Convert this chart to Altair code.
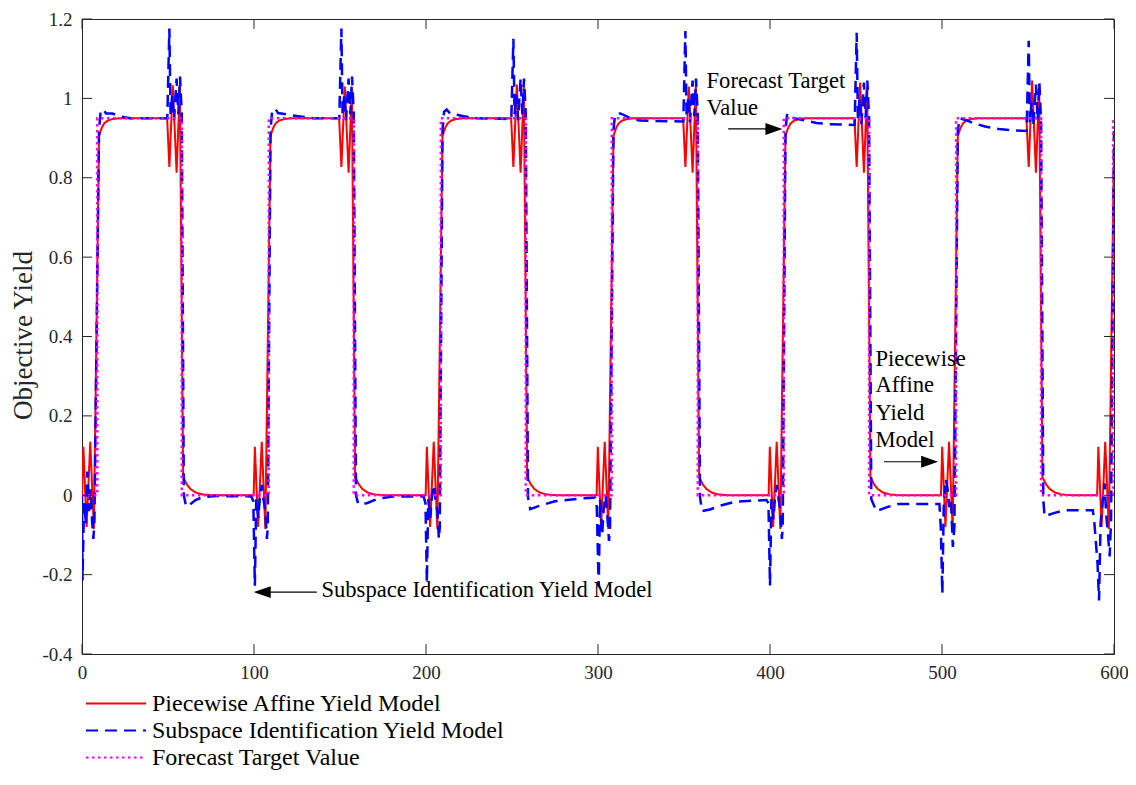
import altair as alt
import pandas as pd

W, H = 1032, 635

series_names = ["Piecewise Affine Yield Model",
                "Subspace Identification Yield Model",
                "Forecast Target Value"]
series_colors = ["#ff0000", "#0000ff", "#ff00ff"]
series_dash = [[1, 0], [12, 7], [2.5, 3.5]]

x_ticks = [0, 100, 200, 300, 400, 500, 600]
y_ticks = [-0.4, -0.2, 0, 0.2, 0.4, 0.6, 0.8, 1.0, 1.2]

# Piecewise affine yield model (red, solid)
pa_points = [
    (0.0, 0.0), (0.8, 0.122), (2.7, -0.08), (4.8, 0.135), (6.9, -0.085), (9.9, 0.905), (10.6, 0.915),
    (11.6, 0.927), (12.9, 0.937), (14.9, 0.944), (17.9, 0.948), (21.9, 0.95), (49.5, 0.95), (50.8, 0.827),
    (52.8, 1.033), (55.0, 0.813), (56.9, 1.03), (58.8, 0.045), (59.5, 0.04), (61.0, 0.027), (63.0, 0.016),
    (66.0, 0.007), (70.0, 0.002), (76.0, 0.0),
    (99.8, 0.0), (100.5, 0.122), (102.4, -0.08), (104.5, 0.135), (106.6, -0.085), (109.6, 0.905), (110.3, 0.915),
    (111.3, 0.927), (112.6, 0.937), (114.6, 0.944), (117.6, 0.948), (121.6, 0.95), (149.5, 0.95), (150.8, 0.827),
    (152.8, 1.03), (155.0, 0.813), (156.9, 1.025), (158.8, 0.045), (159.5, 0.04), (161.0, 0.027), (163.0, 0.016),
    (166.0, 0.007), (170.0, 0.002), (176.0, 0.0),
    (199.8, 0.0), (200.5, 0.122), (202.4, -0.08), (204.5, 0.135), (206.6, -0.085), (209.6, 0.905), (210.3, 0.915),
    (211.3, 0.927), (212.6, 0.937), (214.6, 0.944), (217.6, 0.948), (221.6, 0.95), (249.5, 0.95), (250.8, 0.827),
    (252.8, 1.035), (255.0, 0.813), (256.9, 1.03), (258.8, 0.045), (259.5, 0.04), (261.0, 0.027), (263.0, 0.016),
    (266.0, 0.007), (270.0, 0.002), (276.0, 0.0),
    (299.2, 0.0), (299.9, 0.122), (301.8, -0.08), (303.9, 0.135), (306.0, -0.085), (309.0, 0.905), (309.7, 0.915),
    (310.7, 0.927), (312.0, 0.937), (314.0, 0.944), (317.0, 0.948), (321.0, 0.95), (349.5, 0.95), (350.8, 0.827),
    (352.8, 1.03), (355.0, 0.813), (356.9, 1.035), (358.8, 0.045), (359.5, 0.04), (361.0, 0.027), (363.0, 0.016),
    (366.0, 0.007), (370.0, 0.002), (376.0, 0.0),
    (399.2, 0.0), (399.9, 0.122), (401.8, -0.08), (403.9, 0.135), (406.0, -0.085), (409.0, 0.905), (409.7, 0.915),
    (410.7, 0.927), (412.0, 0.937), (414.0, 0.944), (417.0, 0.948), (421.0, 0.95), (449.1, 0.95), (450.4, 0.827),
    (452.4, 1.04), (454.6, 0.813), (456.5, 1.03), (458.4, 0.045), (459.1, 0.04), (460.6, 0.027), (462.6, 0.016),
    (465.6, 0.007), (469.6, 0.002), (475.6, 0.0),
    (499.4, 0.0), (500.1, 0.122), (502.0, -0.08), (504.1, 0.135), (506.2, -0.085), (509.2, 0.905), (509.9, 0.915),
    (510.9, 0.927), (512.2, 0.937), (514.2, 0.944), (517.2, 0.948), (521.2, 0.95), (549.1, 0.95), (550.4, 0.827),
    (552.4, 1.045), (554.6, 0.813), (556.5, 1.035), (558.4, 0.045), (559.1, 0.04), (560.6, 0.027), (562.6, 0.016),
    (565.6, 0.007), (569.6, 0.002), (575.6, 0.0),
    (590.2, 0.0), (590.9, 0.122), (592.8, -0.08), (594.9, 0.135), (597.0, -0.085), (600.0, 0.878),
]

# Subspace identification yield model (blue, dashed)
si_points = [
    (0.0, 0.0), (0.3, -0.215), (1.2, -0.02), (2.3, -0.07), (3.1, 0.06), (4.1, -0.04), (5.0, 0.015), (5.8, -0.06),
    (6.6, -0.11), (7.2, -0.07), (9.9, 0.92), (10.8, 0.966), (12.1, 0.973), (14.0, 0.962), (17.6, 0.962),
    (22.0, 0.955), (28.0, 0.95), (49.6, 0.95), (50.8, 1.176), (51.5, 0.96), (52.5, 1.01), (53.5, 0.945),
    (55.0, 1.05), (56.0, 0.96), (57.0, 1.055), (58.0, 0.96), (59.2, 0.0), (60.5, -0.028), (62.5, -0.024),
    (66.0, -0.012), (70.0, -0.005), (78.0, -0.002), (98.5, -0.003),
    (99.6, -0.015), (100.5, -0.228), (101.3, -0.01), (102.5, -0.057), (103.5, 0.0), (104.6, 0.026), (105.5, -0.01),
    (106.6, -0.04), (107.5, -0.11), (108.0, -0.08), (109.6, 0.92), (110.5, 0.966), (112.2, 0.975), (114.0, 0.963),
    (121.0, 0.958), (128.0, 0.954), (135.0, 0.95), (149.6, 0.95), (150.8, 1.176), (151.5, 0.96), (152.5, 1.01),
    (153.5, 0.945), (155.0, 1.05), (156.0, 0.96), (157.0, 1.055), (158.0, 0.96), (159.3, 0.0), (160.6, -0.022),
    (165.6, -0.02), (172.4, -0.008), (181.0, -0.003), (198.6, -0.003),
    (199.7, -0.02), (200.5, -0.22), (201.3, -0.01), (202.5, -0.057), (203.5, 0.0), (204.6, 0.026), (205.5, -0.01),
    (206.6, -0.04), (207.5, -0.11), (208.0, -0.08), (209.6, 0.92), (210.5, 0.966), (212.0, 0.972), (214.0, 0.962),
    (222.0, 0.955), (230.0, 0.95), (249.6, 0.948), (250.8, 1.15), (251.5, 0.96), (252.5, 1.01), (253.5, 0.945),
    (255.0, 1.05), (256.0, 0.96), (257.0, 1.05), (258.0, 0.96), (259.3, -0.005), (260.6, -0.035), (265.0, -0.028),
    (275.0, -0.015), (290.0, -0.008), (298.2, -0.006),
    (299.3, -0.03), (300.4, -0.232), (301.2, -0.01), (302.4, -0.1), (303.4, -0.03), (304.4, 0.0), (305.4, -0.05),
    (306.4, -0.115), (307.0, -0.08), (309.0, 0.92), (309.8, 0.955), (311.0, 0.962), (313.0, 0.962), (319.0, 0.95),
    (324.0, 0.944), (333.0, 0.943), (349.6, 0.942), (350.8, 1.17), (351.5, 0.955), (352.5, 1.005), (353.5, 0.94),
    (355.0, 1.045), (356.0, 0.955), (357.0, 1.05), (358.0, 0.955), (359.3, -0.005), (360.5, -0.04), (365.0, -0.036),
    (372.0, -0.025), (380.0, -0.016), (398.0, -0.012),
    (399.1, -0.02), (400.0, -0.228), (400.8, -0.01), (402.0, -0.06), (403.0, 0.0), (404.0, 0.026), (405.0, -0.01),
    (406.0, -0.04), (406.9, -0.11), (407.4, -0.08), (409.0, 0.92), (410.0, 0.962), (414.0, 0.95), (421.0, 0.944),
    (427.0, 0.938), (434.0, 0.935), (449.2, 0.933), (450.4, 1.165), (451.1, 0.95), (452.1, 1.0), (453.1, 0.935),
    (454.6, 1.04), (455.6, 0.95), (456.6, 1.045), (457.6, 0.95), (458.9, -0.01), (461.9, -0.04), (468.0, -0.03),
    (474.4, -0.022), (498.5, -0.022),
    (499.3, -0.08), (500.2, -0.248), (501.0, -0.03), (502.2, 0.04), (503.2, 0.018), (504.2, -0.03), (505.2, -0.01),
    (506.3, -0.13), (507.2, -0.08), (509.2, 0.92), (510.3, 0.95), (514.0, 0.945), (518.0, 0.938), (525.0, 0.929),
    (533.0, 0.923), (540.0, 0.92), (549.2, 0.918), (550.4, 1.145), (551.1, 0.94), (552.1, 0.99), (553.1, 0.93),
    (554.6, 1.035), (555.6, 0.945), (556.6, 1.04), (557.6, 0.94), (558.9, -0.01), (559.6, -0.053), (565.0, -0.045),
    (571.0, -0.038), (587.7, -0.038),
    (588.6, -0.07), (590.4, -0.17), (591.3, -0.265), (592.2, -0.07), (593.3, -0.02), (594.5, 0.03), (595.5, -0.05),
    (596.5, -0.1), (597.5, -0.154), (598.3, -0.06), (600.0, 0.918),
]

# Forecast target value (magenta, dotted)
ft_points = [
    (0.0, 0.0), (8.9, 0.0), (8.9, 0.95), (58.0, 0.95), (58.0, 0.0), (108.6, 0.0), (108.6, 0.95), (158.0, 0.95),
    (158.0, 0.0), (208.6, 0.0), (208.6, 0.95), (258.0, 0.95), (258.0, 0.0), (308.0, 0.0), (308.0, 0.95),
    (358.0, 0.95), (358.0, 0.0), (408.0, 0.0), (408.0, 0.95), (457.6, 0.95), (457.6, 0.0), (508.2, 0.0),
    (508.2, 0.95), (557.6, 0.95), (557.6, 0.0), (599.5, 0.0), (599.5, 0.95), (600.0, 0.95),
]

# annotations
note_text = ["Forecast Target", "Value", "Piecewise", "Affine", "Yield", "Model",
             "Subspace Identification Yield Model"]
note_x = [363.1, 363.1, 461.3, 461.3, 461.3, 461.3, 139.2]
note_y = [1.025, 0.958, 0.326, 0.259, 0.19, 0.122, -0.256]

arrow_x0 = [375.7, 466.3, 104.0]
arrow_x1 = [402.5, 493.0, 136.5]
arrow_y = [0.923, 0.0844, -0.244]
arrow_head_x = [402.3, 492.8, 104.8]
arrow_head_dir = ["right", "right", "left"]

FONT = "Liberation Serif"
AX = "#262626"

frames = []
for name, pts in zip(series_names, [pa_points, si_points, ft_points]):
    df = pd.DataFrame(pts, columns=["x", "y"])
    df["series"] = name
    df["idx"] = range(len(df))
    frames.append(df)

color = alt.Color("series:N", scale=alt.Scale(domain=series_names, range=series_colors),
                  legend=alt.Legend(title=None, orient="none", legendX=3, legendY=671,
                                    direction="vertical", symbolType="stroke", symbolSize=3600,
                                    symbolStrokeWidth=2, clipHeight=27, rowPadding=0,
                                    labelFont=FONT, labelFontSize=24, labelColor="black",
                                    labelOffset=5, padding=0, labelLimit=0))
dash = alt.StrokeDash("series:N", scale=alt.Scale(domain=series_names, range=series_dash), legend=None)

xenc = alt.X("x:Q", scale=alt.Scale(domain=[0, 600], nice=False, zero=False),
             axis=alt.Axis(values=x_ticks, title=None, ticks=False, grid=False, labelPadding=9,
                           labelFontSize=19, labelFont=FONT, labelColor=AX, domainColor=AX,
                           labelFlush=False, labelOverlap=False))
yenc = alt.Y("y:Q", scale=alt.Scale(domain=[-0.4, 1.2], nice=False, zero=False),
             axis=alt.Axis(values=y_ticks, title="Objective Yield", ticks=False, grid=False,
                           labelPadding=10, labelFontSize=19, labelFont=FONT, labelColor=AX,
                           domainColor=AX, labelFlush=False, labelOverlap=False,
                           labelExpr="datum.value < 0 ? '-' + format(-datum.value, '.1~f') : format(datum.value, '.1~f')",
                           titleFont=FONT, titleFontSize=27, titleFontWeight="normal", titleColor=AX,
                           titleX=-51, titleY=316, titleBaseline="alphabetic", titleAngle=-90))

widths = [2, 2.5, 2.5]
lines = []
for df, w in zip(frames, widths):
    lines.append(alt.Chart(df).mark_line(strokeWidth=w, clip=True).encode(
        x=xenc, y=yenc, color=color, strokeDash=dash, order=alt.Order("idx:Q")))

xt = pd.DataFrame({"x": x_ticks})
yt = pd.DataFrame({"y": y_ticks})
tick_layers = [
    alt.Chart(xt).mark_rule(color=AX, strokeWidth=1).encode(x=xenc, y=alt.value(0), y2=alt.value(10)),
    alt.Chart(xt).mark_rule(color=AX, strokeWidth=1).encode(x=xenc, y=alt.value(H), y2=alt.value(H - 10)),
    alt.Chart(yt).mark_rule(color=AX, strokeWidth=1).encode(y=yenc, x=alt.value(0), x2=alt.value(10)),
    alt.Chart(yt).mark_rule(color=AX, strokeWidth=1).encode(y=yenc, x=alt.value(W), x2=alt.value(W - 10)),
]

notes = alt.Chart(pd.DataFrame({"t": note_text, "x": note_x, "y": note_y})).mark_text(
    font=FONT, fontSize=22.6, align="left", baseline="alphabetic", color="black").encode(
    x=xenc, y=yenc, text="t:N")

arr = pd.DataFrame({"x": arrow_x0, "x1": arrow_x1, "y": arrow_y})
heads = pd.DataFrame({"x": arrow_head_x, "y": arrow_y, "dir": arrow_head_dir})
arrow_lines = alt.Chart(arr).mark_rule(color="black", strokeWidth=1.2).encode(
    x=xenc, x2="x1:Q", y=yenc)
heads_r = alt.Chart(heads).transform_filter("datum.dir == 'right'").mark_point(
    shape="M-1,-0.7L1,0L-1,0.7Z", filled=True, color="black", size=289, opacity=1).encode(
    x=xenc, y=yenc)
heads_l = alt.Chart(heads).transform_filter("datum.dir == 'left'").mark_point(
    shape="M1,-0.7L-1,0L1,0.7Z", filled=True, color="black", size=289, opacity=1).encode(
    x=xenc, y=yenc)

chart = alt.layer(*lines, *tick_layers, notes, arrow_lines, heads_r, heads_l).properties(
    width=W, height=H, autosize=alt.AutoSizeParams(type="none"),
    padding={"left": 74, "top": 11, "right": 14, "bottom": 116},
    background="white",
).configure(font=FONT).configure_view(stroke=AX, strokeWidth=1)

chart.save("out.html", embed_options={"renderer": "svg", "actions": False})
